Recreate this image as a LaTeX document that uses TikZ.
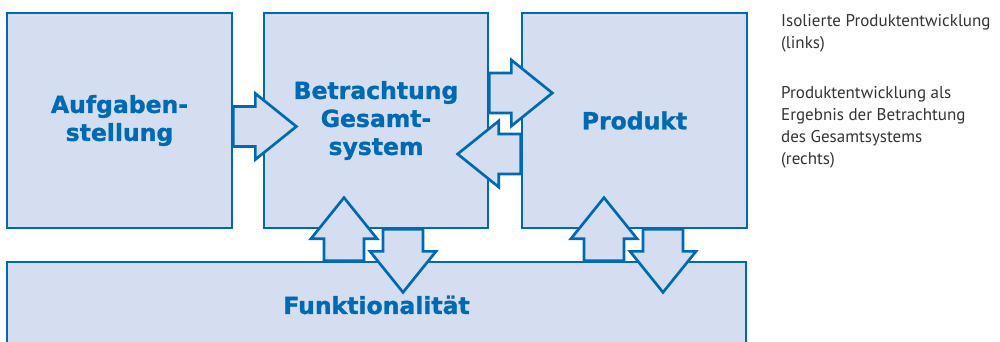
\documentclass[tikz,border=0pt]{standalone}
\usepackage{fontspec}
\setmainfont{DejaVu Sans}
\newfontfamily\heavyf{DejaVu Sans Bold}[FakeBold=1.2]
\newfontfamily\lightf{PT Sans}
\definecolor{lineblue}{HTML}{0069B4}
\definecolor{fillblue}{HTML}{D4DEF0}
\definecolor{txtgrey}{HTML}{333333}
\tikzset{
  box/.style={draw=lineblue, fill=fillblue, line width=2.7pt, inner sep=0pt,
    text=lineblue, font=\heavyf\fontsize{23.5}{28}\selectfont, align=center},
  arr/.style={draw=lineblue, fill=fillblue, line width=2.7pt, line join=miter},
  note/.style={text=txtgrey, font=\lightf\fontsize{17}{22}\selectfont, align=left,
    anchor=north west, inner sep=0pt},
  pics/barrow/.style={code={
    \path[arr] (0,-20) -- (22,-20) -- (22,-33) -- (63,0) -- (22,33) -- (22,20) -- (0,20) -- cycle;}}
}
\begin{document}
\begin{tikzpicture}[x=1pt,y=-1pt]
\useasboundingbox (0,0) rectangle (1000,341);
\clip (0,0) rectangle (1000,341);
\node[box, minimum width=225pt, minimum height=215pt] (auf) at (119.5,120.5) {Aufgaben-\\stellung};
\node[box, minimum width=224pt, minimum height=215pt] (ges) at (376,120.5) {Betrachtung\\Gesamt-\\system};
\node[box, minimum width=225pt, minimum height=215pt] (prod) at (634.5,120.5) {Produkt};
\node[box, minimum width=739pt, minimum height=86pt] (funk) at (376.5,305) {Funktionalit\"at};
% block arrows
\pic at ([yshift=-6pt]auf.east) {barrow};
\pic at ([yshift=27.5pt]ges.east) {barrow};
\pic[rotate=180] at ([yshift=-33.5pt]prod.west) {barrow};
\coordinate (a4) at ([xshift=-32pt]ges.south);
\coordinate (a6) at ([xshift=-30.5pt]prod.south);
\pic[rotate=90] at (a4 |- funk.north) {barrow};
\pic[rotate=-90] at ([xshift=27pt]ges.south) {barrow};
\pic[rotate=90] at (a6 |- funk.north) {barrow};
\pic[rotate=-90] at ([xshift=28.5pt]prod.south) {barrow};
% notes
\node[note] (n1) at (781,14) {Isolierte Produktentwicklung\\(links)};
\node[note] (n2) at (781,86.5) {Produktentwicklung als\\Ergebnis der Betrachtung\\des Gesamtsystems\\(rechts)};
\end{tikzpicture}
\end{document}
